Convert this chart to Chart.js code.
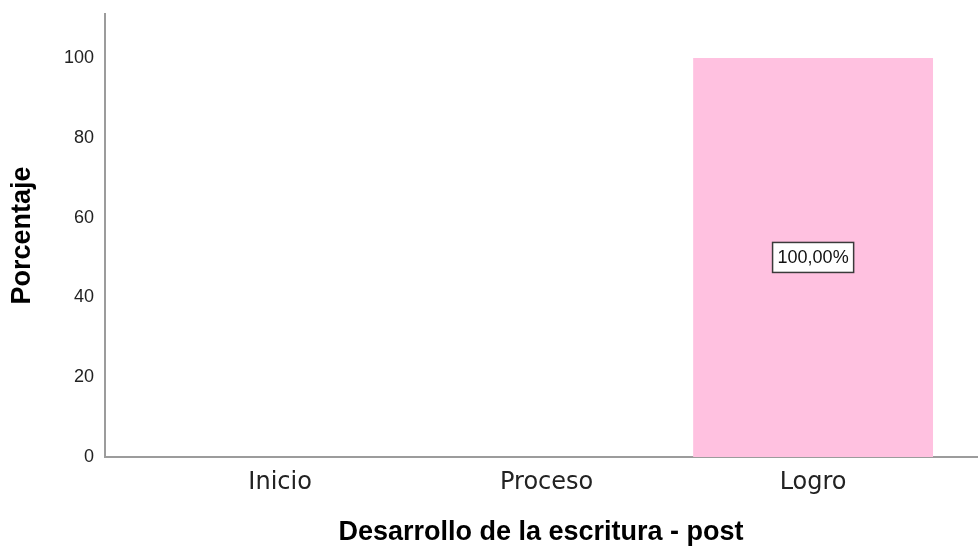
<!DOCTYPE html>
<html>
<head>
<meta charset="utf-8">
<script src="https://cdn.jsdelivr.net/npm/chart.js@4/dist/chart.umd.min.js"></script>
<style>
html,body{margin:0;padding:0;background:#fff;}
#wrap{width:978px;height:554px;}
</style>
</head>
<body>
<div id="wrap"><canvas id="c" width="978" height="554"></canvas></div>
<script>
const categories = ['Inicio', 'Proceso', 'Logro'];
const percentages = [0, 0, 100];
const yTicks = [0, 20, 40, 60, 80, 100];
const xTitle = 'Desarrollo de la escritura - post';
const yTitle = 'Porcentaje';

const points = categories.map((c, i) => ({ x: i, y: percentages[i] }));

const barLabels = {
  id: 'barLabels',
  afterDatasetsDraw(chart) {
    const ctx = chart.ctx;
    const meta = chart.getDatasetMeta(0);
    meta.data.forEach((bar, i) => {
      const v = percentages[i];
      if (!v) return;
      const txt = v.toFixed(2).replace('.', ',') + '%';
      const cx = bar.x;
      const cy = (bar.y + bar.base) / 2;
      ctx.save();
      ctx.font = '18px "Liberation Sans", Arial, sans-serif';
      const w = ctx.measureText(txt).width + 10;
      const h = 30;
      ctx.fillStyle = '#ffffff';
      ctx.fillRect(cx - w / 2, cy - h / 2, w, h);
      ctx.strokeStyle = '#3a3a3a';
      ctx.lineWidth = 1.5;
      ctx.strokeRect(cx - w / 2, cy - h / 2, w, h);
      ctx.fillStyle = '#111';
      ctx.textAlign = 'center';
      ctx.textBaseline = 'middle';
      ctx.fillText(txt, cx, cy + 1);
      ctx.restore();
    });
  }
};

new Chart(document.getElementById('c'), {
  type: 'bar',
  data: {
    datasets: [{
      data: points,
      backgroundColor: '#FFC1E0',
      borderWidth: 0,
      barPercentage: 0.9,
      categoryPercentage: 1.0
    }]
  },
  options: {
    responsive: false,
    animation: false,
    layout: { padding: { top: 14, right: 1, left: 0, bottom: 0 } },
    plugins: { legend: { display: false }, tooltip: { enabled: false } },
    scales: {
      x: {
        type: 'linear',
        offset: false,
        min: -0.657,
        max: 2.615,
        afterBuildTicks: (s) => { s.ticks = categories.map((c, i) => ({ value: i })); },
        afterFit: (s) => { s.height = 97; s.paddingLeft = 0; s.paddingRight = 0; },
        grid: { display: false, drawTicks: false, offset: false },
        border: { display: true, color: '#9c9c9c', width: 2 },
        ticks: {
          autoSkip: false,
          maxRotation: 0,
          padding: 11,
          color: '#222',
          font: { family: '"DejaVu Sans", sans-serif', size: 24 },
          callback: (v) => categories[v] !== undefined ? categories[v] : ''
        },
        title: {
          display: true,
          text: xTitle,
          color: '#000',
          font: { family: '"Liberation Sans", Arial, sans-serif', size: 27, weight: 'bold' },
          padding: { top: 0, bottom: 5 }
        }
      },
      y: {
        min: 0,
        max: 111,
        afterBuildTicks: (s) => { s.ticks = yTicks.map(v => ({ value: v })); },
        afterFit: (s) => { s.width = 105; s.paddingTop = 0; s.paddingBottom = 0; },
        grid: { display: false, drawTicks: false },
        border: { display: true, color: '#9c9c9c', width: 2 },
        ticks: {
          padding: 11,
          color: '#222',
          font: { family: '"Liberation Sans", Arial, sans-serif', size: 18 }
        },
        title: {
          display: true,
          text: yTitle,
          color: '#000',
          font: { family: '"Liberation Sans", Arial, sans-serif', size: 27, weight: 'bold' },
          padding: { top: 6, bottom: 0 }
        }
      }
    }
  },
  plugins: [barLabels]
});
</script>
</body>
</html>
